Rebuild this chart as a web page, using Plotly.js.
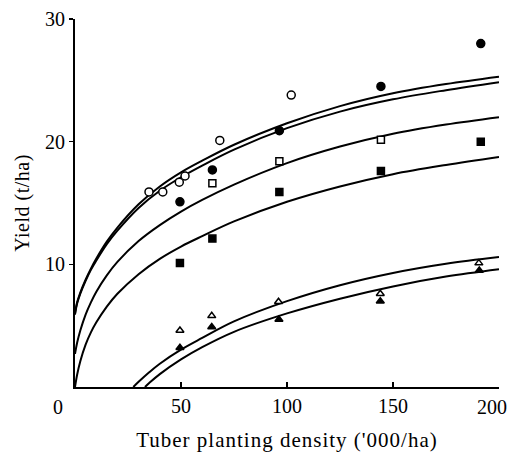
<!DOCTYPE html>
<html>
<head>
<meta charset="utf-8">
<script src="https://cdn.plot.ly/plotly-3.0.1.min.js"></script>
<style>
html, body { margin: 0; padding: 0; background: #fff; }
#chart { width: 511px; height: 455px; }
.xtitle { letter-spacing: 1px; }
.ytitle { letter-spacing: 0.5px; }
</style>
</head>
<body>
<div id="chart"></div>
<script>
// ---- data ----
const openCircleX = [34.9, 41.4, 49.2, 51.9, 68.3, 102.0];
const openCircleY = [15.9, 15.9, 16.7, 17.2, 20.1, 23.8];

const filledCircleX = [49.5, 64.8, 96.4, 144.3, 191.4];
const filledCircleY = [15.1, 17.7, 20.9, 24.5, 28.0];

const openSquareX = [64.8, 96.4, 144.3];
const openSquareY = [16.6, 18.4, 20.15];

const filledSquareX = [49.5, 64.8, 96.4, 144.3, 191.4];
const filledSquareY = [10.1, 12.1, 15.9, 17.6, 20.0];

const openTriangleX = [49.5, 64.5, 96.0, 144.0, 190.5];
const openTriangleY = [4.6, 5.8, 6.95, 7.6, 10.1];

const filledTriangleX = [49.5, 64.5, 96.2, 144.0, 190.7];
const filledTriangleY = [3.2, 4.9, 5.5, 7.0, 9.5];

// fitted curves
const curveUpperX = [0, 1, 2.5, 5, 7.5, 10, 15, 20, 30, 40, 50, 60, 75, 100, 125, 150, 175, 200];
const curve1Y = [6.0, 6.9, 7.7, 8.75, 9.65, 10.45, 11.85, 13.0, 14.9, 16.35, 17.5, 18.45, 19.75, 21.5, 22.9, 23.95, 24.7, 25.3];
const curve2Y = [5.9, 6.8, 7.6, 8.65, 9.55, 10.3, 11.65, 12.75, 14.6, 16.0, 17.1, 18.05, 19.35, 21.1, 22.45, 23.45, 24.2, 24.85];
const curve3Y = [2.7, 3.6, 4.6, 5.9, 6.9, 7.75, 9.1, 10.2, 11.9, 13.2, 14.3, 15.25, 16.5, 18.25, 19.6, 20.65, 21.4, 22.0];
const curve4Y = [0, 1.0, 2.1, 3.45, 4.45, 5.25, 6.55, 7.6, 9.2, 10.45, 11.45, 12.3, 13.5, 15.1, 16.35, 17.35, 18.1, 18.75];

const curve5X = [27.5, 30, 35, 40, 50, 60, 75, 100, 125, 150, 175, 200];
const curve5Y = [0, 0.42, 1.2, 1.9, 3.05, 4.0, 5.35, 7.0, 8.3, 9.3, 10.05, 10.6];
const curve6X = [33, 35, 40, 50, 60, 75, 100, 125, 150, 175, 200];
const curve6Y = [0, 0.32, 1.05, 2.25, 3.25, 4.5, 6.0, 7.2, 8.2, 9.0, 9.6];

const xTickVals = [50, 100, 150, 200];
const xTickText = ['50', '100', '150', ''];
const lastXLabel = '200';
const originLabel = '0';
const yTickVals = [10, 20, 30];
const yTickText = ['10', '20', '30'];

// ---- build traces ----
function curve(x, y) {
  return { x: x, y: y, type: 'scatter', mode: 'lines',
           line: { color: '#000', width: 2, shape: 'spline', smoothing: 1 },
           hoverinfo: 'skip', showlegend: false, cliponaxis: false };
}
function pts(x, y, symbol, open, size) {
  return { x: x, y: y, type: 'scatter', mode: 'markers', showlegend: false,
           cliponaxis: false,
           marker: { symbol: symbol, size: size,
                     color: open ? '#fff' : '#000',
                     line: { color: '#000', width: 1.5 } } };
}

const traces = [
  curve(curveUpperX, curve1Y),
  curve(curveUpperX, curve2Y),
  curve(curveUpperX, curve3Y),
  curve(curveUpperX, curve4Y),
  curve(curve5X, curve5Y),
  curve(curve6X, curve6Y),
  pts(openCircleX, openCircleY, 'circle', true, 8),
  pts(filledCircleX, filledCircleY, 'circle', false, 8),
  pts(openSquareX, openSquareY, 'square', true, 7),
  pts(filledSquareX, filledSquareY, 'square', false, 7),
  pts(openTriangleX, openTriangleY, 'triangle-up', true, 7),
  pts(filledTriangleX, filledTriangleY, 'triangle-up', false, 7)
];

const layout = {
  width: 511, height: 455,
  margin: { l: 75, r: 12, t: 19, b: 68 },
  paper_bgcolor: '#fff', plot_bgcolor: '#fff',
  font: { family: '"Liberation Serif", "DejaVu Serif", serif', color: '#000', size: 20 },
  showlegend: false,
  xaxis: {
    range: [0, 200], autorange: false,
    tickmode: 'array', tickvals: xTickVals, ticktext: xTickText,
    ticks: 'inside', ticklen: 5, tickwidth: 1.5, tickcolor: '#000',
    ticklabeloverflow: 'allow',
    showline: true, linewidth: 2, linecolor: '#000', mirror: false,
    showgrid: false, zeroline: false,
    tickfont: { size: 20 },
    title: { text: "Tuber planting density ('000/ha)", font: { size: 21 }, standoff: 16 },
    automargin: false
  },
  yaxis: {
    range: [0, 30], autorange: false,
    tickmode: 'array', tickvals: yTickVals, ticktext: yTickText,
    ticks: 'outside', ticklen: 4, tickwidth: 1.5, tickcolor: '#000',
    ticklabeloverflow: 'allow',
    showline: true, linewidth: 2, linecolor: '#000', mirror: false,
    showgrid: false, zeroline: false,
    tickfont: { size: 20 },
    title: { text: 'Yield (t/ha)', font: { size: 20 }, standoff: 10 },
    automargin: false
  },
  annotations: [
    { text: originLabel, xref: 'x', yref: 'paper', x: 0, y: 0, xshift: -17, yshift: -20,
      showarrow: false, xanchor: 'center', yanchor: 'middle', font: { size: 20 } },
    { text: lastXLabel, xref: 'paper', yref: 'paper', x: (509 - 75) / 424, y: 0, yshift: -20,
      showarrow: false, xanchor: 'right', yanchor: 'middle', font: { size: 20 } }
  ]
};

Plotly.newPlot('chart', traces, layout, { staticPlot: true, displayModeBar: false });
</script>
</body>
</html>
